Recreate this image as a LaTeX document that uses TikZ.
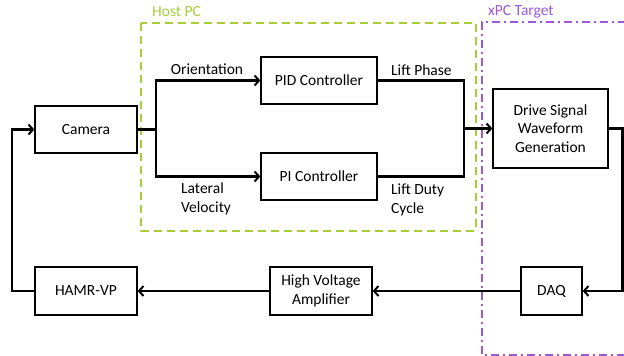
\documentclass[tikz,border=0pt]{standalone}
\usepackage{fontspec}
\setmainfont{Carlito}
\usetikzlibrary{arrows.meta}
\definecolor{hostgreen}{HTML}{A6CE39}
\definecolor{xpcpurple}{HTML}{9B59D9}
\begin{document}
\begin{tikzpicture}[x=1pt,y=-1pt,
  every node/.style={font=\fontsize{15.5}{18.7}\selectfont},
  blk/.style={draw,line width=1.3pt,align=center,inner sep=0pt},
  conn/.style={line width=2.6pt},
  arr/.style={conn,-{Straight Barb[length=4.5pt,width=10pt,line width=2pt]}},
  lbl/.style={inner sep=0pt,align=left}]
\useasboundingbox (0,0) rectangle (624,356);
% regions
\draw[hostgreen,line width=1.8pt,dash pattern=on 8pt off 5pt] (141,22.7) rectangle (475.7,230.7);
\node[hostgreen,inner sep=0pt,anchor=west] (hostlbl) at (152,12) {Host PC};
\draw[xpcpurple,line width=1.8pt,dash pattern=on 8pt off 4pt on 2pt off 4pt]
  (626,22) -- (482,22) -- (482,354.7) -- (626,354.7);
\node[xpcpurple,inner sep=0pt,anchor=west] (xpclbl) at (488,12) {xPC Target};
% blocks
\node[blk,minimum width=102pt,minimum height=47pt] (cam) at (86,129.5) {Camera};
\node[blk,minimum width=116pt,minimum height=47pt] (pid) at (319,80.5) {PID Controller};
\node[blk,minimum width=116pt,minimum height=47pt] (pi) at (319,176.5) {PI Controller};
\node[blk,minimum width=115pt,minimum height=79pt] (drive) at (550.5,128.5) {Drive Signal\\Waveform\\Generation};
\node[blk,minimum width=102pt,minimum height=48pt] (hamr) at (86,291) {HAMR-VP};
\node[blk,minimum width=102pt,minimum height=48pt] (hva) at (321,291) {High Voltage\\Amplifier};
\node[blk,minimum width=61pt,minimum height=48pt] (daq) at (551.5,291) {DAQ};
% junction coordinates
\coordinate (split) at (156,129.5);
\coordinate (merge) at (464,128.5);
\coordinate (rt) at (622.5,128.5);
\coordinate (lf) at (12,291);
% connectors
\draw[conn] (cam.east) -- (split);
\draw[arr] (split) |- (pid.west);
\draw[arr] (split) |- (pi.west);
\draw[conn] (pid.east) -| (merge);
\draw[conn] (pi.east) -| (merge);
\draw[arr] (merge) -- (drive.west);
\draw[arr] (drive.east) -- (rt) |- (daq.east);
\draw[arr] (daq.west) -- (hva.east);
\draw[arr] (hva.west) -- (hamr.east);
\draw[arr] (hamr.west) -- (lf) |- (cam.west);
% labels
\node[lbl,anchor=center] (lorient) at (207,69) {Orientation};
\node[lbl,anchor=north west] (llat) at (181,182.5) {Lateral\\Velocity};
\node[lbl,anchor=west] (lphase) at (391,70) {Lift Phase};
\node[lbl,anchor=north west] (lduty) at (391,183.5) {Lift Duty\\Cycle};
\end{tikzpicture}
\end{document}
